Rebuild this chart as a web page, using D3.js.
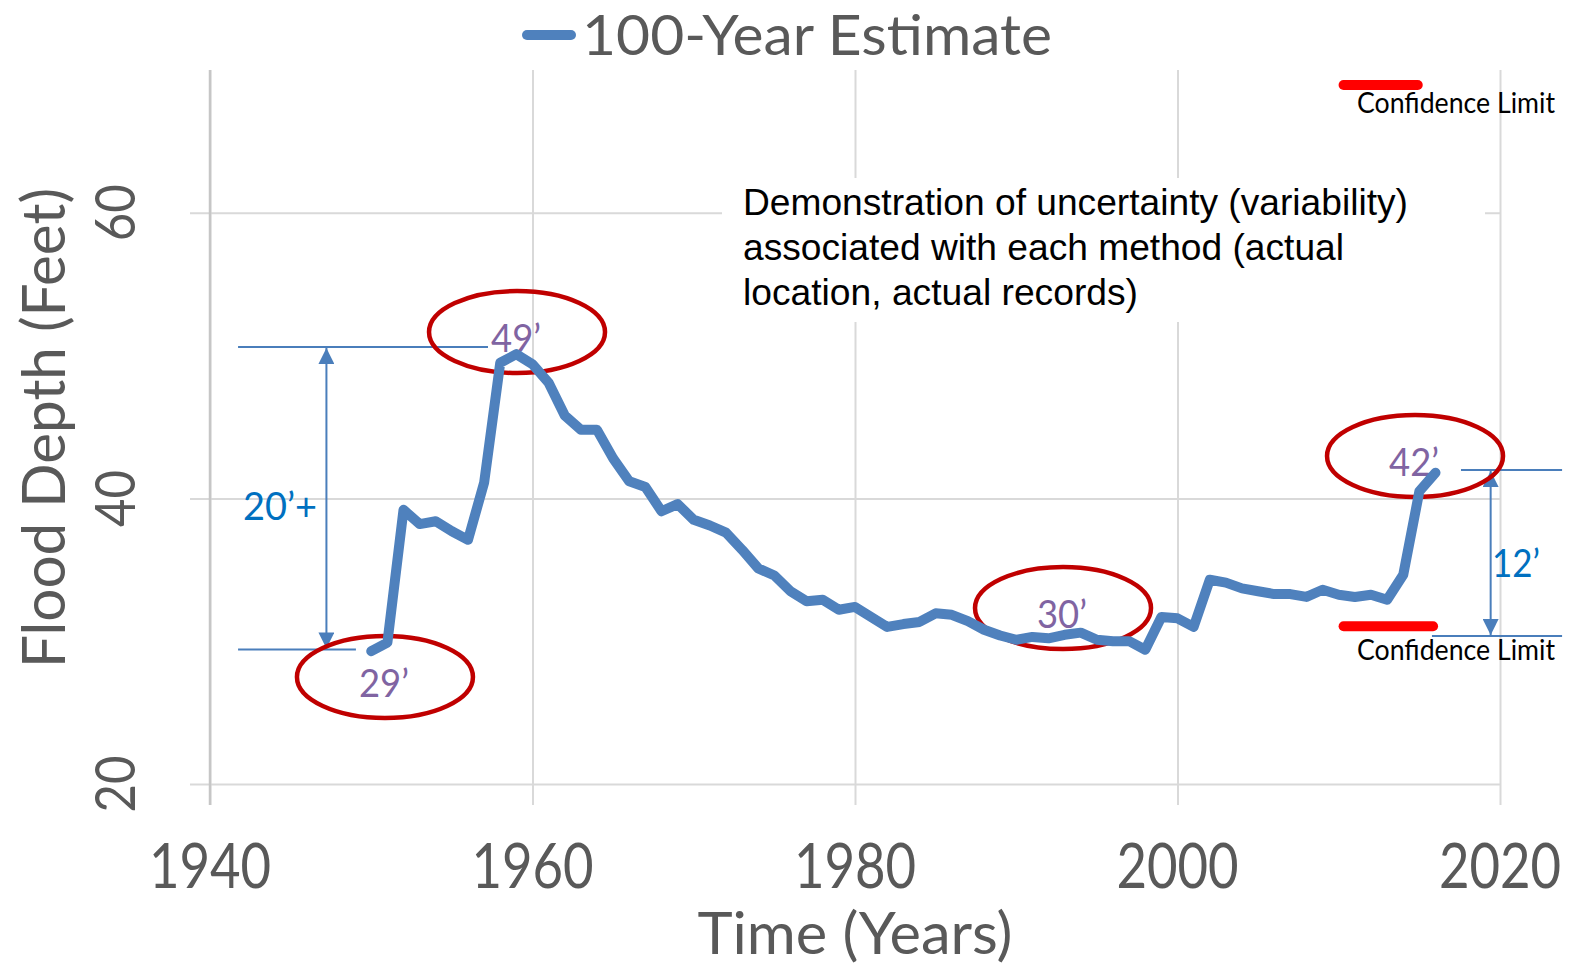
<!DOCTYPE html>
<html><head><meta charset="utf-8">
<script src="https://cdn.jsdelivr.net/npm/d3@7"></script>
<style>body{margin:0;background:#fff} svg{display:block}</style>
</head><body><svg id="c" width="1570" height="969"></svg>
<script>
// ---------- data ----------
const years = [1950,1951,1952,1953,1954,1955,1956,1957,1958,1959,
  1960,1961,1962,1963,1964,1965,1966,1967,1968,1969,
  1970,1971,1972,1973,1974,1975,1976,1977,1978,1979,
  1980,1981,1982,1983,1984,1985,1986,1987,1988,1989,
  1990,1991,1992,1993,1994,1995,1996,1997,1998,1999,
  2000,2001,2002,2003,2004,2005,2006,2007,2008,2009,
  2010,2011,2012,2013,2014,2015,2016];
const estimate100 = [29.3,29.9,39.2,38.2,38.4,37.7,37.1,41.1,49.5,50.1,
  49.4,48.1,45.8,44.8,44.8,42.8,41.2,40.8,39.1,39.6,
  38.5,38.1,37.6,36.4,35.1,34.6,33.5,32.8,32.9,32.2,
  32.4,31.7,31.0,31.2,31.35,31.95,31.85,31.4,30.8,30.4,
  30.1,30.3,30.2,30.45,30.6,30.1,30.0,30.0,29.4,31.7,
  31.6,31.0,34.3,34.1,33.7,33.5,33.3,33.3,33.1,33.6,
  33.25,33.1,33.25,32.9,34.65,40.5,41.8];
const xTicks = [1940,1960,1980,2000,2020];
const yTicks = [20,40,60];
const seriesName = "100-Year Estimate";
const xTitle = "Time (Years)";
const yTitle = "Flood Depth (Feet)";
const noteLines = ["Demonstration of uncertainty (variability)",
                   "associated with each method (actual",
                   "location, actual records)"];
const calloutLabels = ["29\u2019","49\u2019","30\u2019","42\u2019"];
const calloutYears  = [1950.85,1959.04,1992.9,2014.73];
const calloutValues = [27.49,51.65,32.32,42.97];
const confLabel = "Confidence Limit";
const confFrom  = [2010.3,2010.3];
const confTo    = [2014.9,2015.85];
const confValue = [68.95,31.05];
const rangeLabels = ["20\u2019+","12\u2019"];
const rangeYear   = [1947.22,2019.42];
const rangeLow    = [29.42,30.36];
const rangeHigh   = [50.6,41.99];
const rangeLowFrom  = [1941.74,2015.78];
const rangeLowTo    = [1949.05,2023.85];
const rangeHighFrom = [1941.74,2017.58];
const rangeHighTo   = [1957.24,2023.85];

// ---------- setup ----------
const svg = d3.select("#c");
const x = d3.scaleLinear().domain([1940,2020]).range([210,1500]);
const y = d3.scaleLinear().domain([20,70]).range([784,70]);
const F = "Lato, 'Open Sans', sans-serif";
const gray = "#595959";
function fit(sel, w){ return sel.attr("textLength", w).attr("lengthAdjust","spacingAndGlyphs"); }

// gridlines via axes
const gx = svg.append("g").attr("transform","translate(0,805)")
  .call(d3.axisBottom(x).tickValues(xTicks).tickSize(-(805 - y(70))).tickFormat(""));
gx.select(".domain").remove();
gx.selectAll("line").attr("stroke","#d9d9d9").attr("stroke-width",2);
const gy = svg.append("g").attr("transform","translate(1500,0)")
  .call(d3.axisLeft(y).tickValues(yTicks).tickSize(1500-190).tickFormat(""));
gy.select(".domain").remove();
gy.selectAll("line").attr("stroke","#d9d9d9").attr("stroke-width",2);
// y axis line
svg.append("line").attr("x1",x(1940)).attr("x2",x(1940)).attr("y1",y(70)).attr("y2",805)
  .attr("stroke","#c6c6c6").attr("stroke-width",2.5);

// tick labels (horizontally condensed to match the narrow original face)
svg.selectAll(".xl").data(xTicks).join("text")
  .attr("transform",d=>`translate(${x(d)},888) scale(0.85,1)`).attr("text-anchor","middle")
  .attr("font-family",F).attr("font-size",62).attr("fill",gray)
  .text(d=>d);
svg.selectAll(".yl").data(yTicks).join("text")
  .attr("transform",d=>`translate(135,${y(d)}) rotate(-90)`).attr("text-anchor","middle")
  .attr("font-family",F).attr("font-size",56).attr("fill",gray)
  .text(d=>d).each(function(){ fit(d3.select(this),57); });

// axis titles
fit(svg.append("text").attr("x",855).attr("y",954).attr("text-anchor","middle")
  .attr("font-family",F).attr("font-size",58).attr("fill",gray).text(xTitle),315);
fit(svg.append("text").attr("transform","translate(65,428) rotate(-90)").attr("text-anchor","middle")
  .attr("font-family",F).attr("font-size",60).attr("fill",gray).text(yTitle),480);

// legend
svg.append("line").attr("x1",527).attr("x2",571).attr("y1",35).attr("y2",35)
  .attr("stroke","#4f81bd").attr("stroke-width",10).attr("stroke-linecap","round");
fit(svg.append("text").attr("x",582).attr("y",55).attr("font-family",F).attr("font-size",57)
  .attr("fill",gray).text(seriesName),470);

// note box
svg.append("rect").attr("x",722).attr("y",178).attr("width",763).attr("height",144).attr("fill","#fff");
const noteW = [665,601,395];
noteLines.forEach((t,i)=>{
  fit(svg.append("text").attr("x",743).attr("y",215+45*i)
    .attr("font-family","'Liberation Sans', Arial, sans-serif").attr("font-size",37)
    .attr("fill","#000").text(t), noteW[i]);
});

// arrow markers
const defs = svg.append("defs");
defs.append("marker").attr("id","ah").attr("viewBox","0 0 10 10").attr("refX",10).attr("refY",5)
  .attr("markerWidth",8).attr("markerHeight",8).attr("markerUnits","strokeWidth").attr("orient","auto-start-reverse")
  .append("path").attr("d","M0,0 L10,5 L0,10 Z").attr("fill","#4a7ebb");

// range markers
const blue2 = "#4a7ebb";
rangeLabels.forEach((lab,i)=>{
  svg.append("line").attr("x1",x(rangeHighFrom[i])).attr("x2",x(rangeHighTo[i]))
    .attr("y1",y(rangeHigh[i])).attr("y2",y(rangeHigh[i])).attr("stroke",blue2).attr("stroke-width",2);
  svg.append("line").attr("x1",x(rangeLowFrom[i])).attr("x2",x(rangeLowTo[i]))
    .attr("y1",y(rangeLow[i])).attr("y2",y(rangeLow[i])).attr("stroke",blue2).attr("stroke-width",2);
  svg.append("line").attr("x1",x(rangeYear[i])).attr("x2",x(rangeYear[i]))
    .attr("y1",y(rangeHigh[i])+1).attr("y2",y(rangeLow[i])-1)
    .attr("stroke",blue2).attr("stroke-width",2)
    .attr("marker-start","url(#ah)").attr("marker-end","url(#ah)");
});
fit(svg.append("text").attr("x",243).attr("y",520).attr("font-family",F).attr("font-size",38)
  .attr("fill","#0070c0").text(rangeLabels[0]),74);
fit(svg.append("text").attr("x",1492).attr("y",577).attr("font-family",F).attr("font-size",38)
  .attr("fill","#0070c0").text(rangeLabels[1]),48);

// confidence limit bars
const confTextDy = [28,34];
confValue.forEach((v,i)=>{
  svg.append("line").attr("x1",x(confFrom[i])).attr("x2",x(confTo[i])).attr("y1",y(v)).attr("y2",y(v))
    .attr("stroke","#ff0000").attr("stroke-width",10).attr("stroke-linecap","round");
  fit(svg.append("text").attr("x",1357).attr("y",y(v)+confTextDy[i]).attr("font-family",F).attr("font-size",28)
    .attr("fill","#000").text(confLabel),198);
});

// callout ellipses
calloutLabels.forEach((lab,i)=>{
  svg.append("ellipse").attr("cx",x(calloutYears[i])).attr("cy",y(calloutValues[i]))
    .attr("rx",88).attr("ry",41).attr("fill","none").attr("stroke","#c00000").attr("stroke-width",4.5);
  fit(svg.append("text").attr("x",x(calloutYears[i])-1).attr("y",y(calloutValues[i])+20)
    .attr("text-anchor","middle").attr("font-family",F).attr("font-size",38)
    .attr("fill","#8064a2").text(lab),50);
});

// data line
const pts = years.map((yr,i)=>[yr, estimate100[i]]);
svg.append("path").datum(pts)
  .attr("d", d3.line().x(d=>x(d[0])).y(d=>y(d[1])))
  .attr("fill","none").attr("stroke","#4f81bd").attr("stroke-width",10)
  .attr("stroke-linejoin","round").attr("stroke-linecap","round");
</script></body></html>
